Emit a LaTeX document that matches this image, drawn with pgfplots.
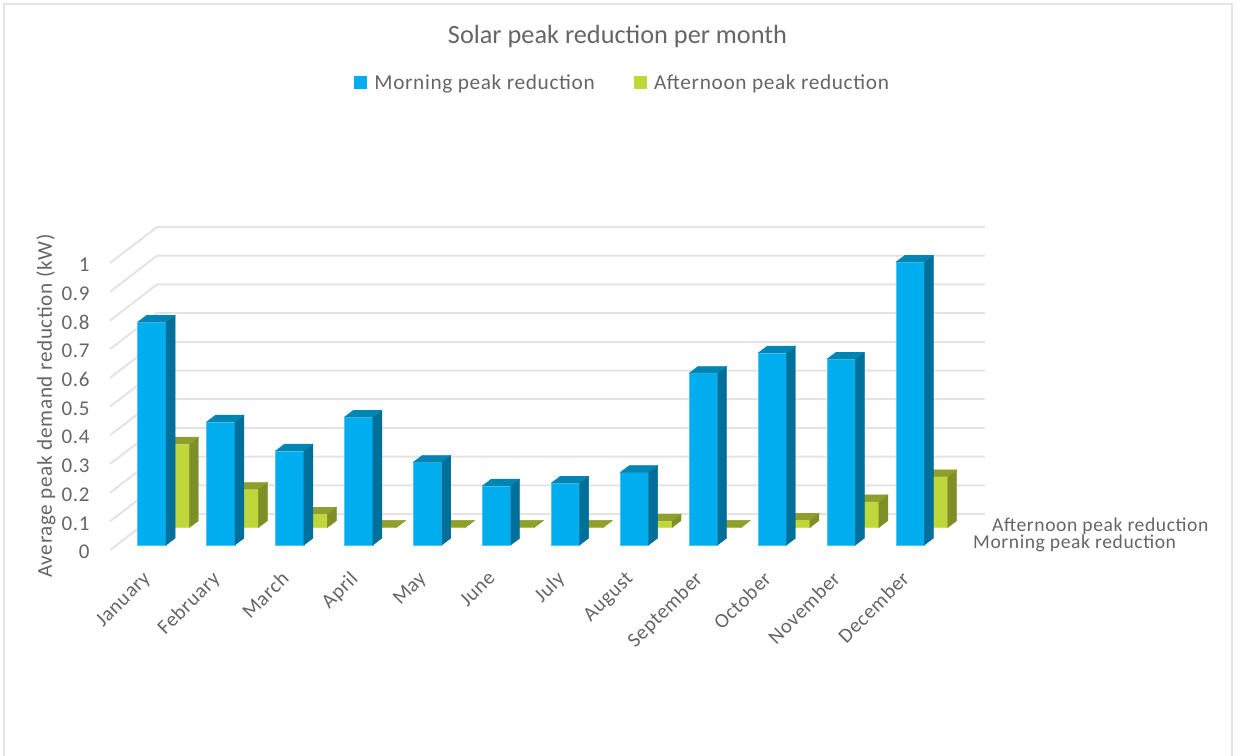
\documentclass[border=0pt]{standalone}
\usepackage{pgfplots}
\usepackage{pgfplotstable}
\usepackage{fontspec}
\setmainfont{Carlito}
\newfontfamily\spaced[LetterSpace=3]{Carlito}
\pgfplotsset{compat=1.18}
\definecolor{txt}{HTML}{666666}
\definecolor{gridc}{HTML}{E4E4E4}
\definecolor{frontB}{HTML}{00AEEF}
\definecolor{sideB}{HTML}{00709A}
\definecolor{topB}{HTML}{0085B5}
\definecolor{edgeB}{HTML}{4FC6F2}
\definecolor{frontG}{HTML}{BFD73B}
\definecolor{sideG}{HTML}{7F8F27}
\definecolor{topG}{HTML}{8F9F2D}
\definecolor{edgeG}{HTML}{CFE25F}
\pgfdeclareplotmark{emptymark}{}
\pgfplotstableread{
idx morning afternoon
0 0.777 0.291
1 0.429 0.134
2 0.328 0.047
3 0.446 0.001
4 0.289 0.001
5 0.206 0.001
6 0.216 0.001
7 0.253 0.023
8 0.599 0.001
9 0.669 0.026
10 0.648 0.090
11 0.986 0.177
}\datatable
\pgfplotsset{
  frame/.style={
    scale only axis, width=904pt, height=360pt,
    xmin=-0.8109, xmax=12.303, ymin=-0.0348, ymax=1.2195,
    clip=false, anchor=south west,
  },
  hidden/.style={frame, hide axis},
  faces/.style={
    only marks, scatter, mark=emptymark,
    visualization depends on={rawy \as \val},
    scatter/@pre marker code/.code={
      \fill[side#1] (14.15pt,0pt) -- ++(9pt,6.8pt) -- ++(0pt,{-\val*287pt}) -- ++(-9pt,-6.8pt) -- cycle;
      \fill[top#1] (-14.15pt,0pt) -- ++(9pt,6.8pt) -- ++(28.3pt,0pt) -- ++(-9pt,-6.8pt) -- cycle;
    },
    scatter/@post marker code/.code={},
  },
  front/.style={ybar, bar width=28.3pt, fill=front#1, draw=edge#1, line width=0.6pt},
}
\begin{document}
\begin{tikzpicture}
\useasboundingbox (0,0) rectangle (1238pt,755pt);
\fill[white] (0,0) rectangle (1238pt,755pt);
\draw[gridc, line width=2pt] (4pt,-1pt) -- (4pt,751pt) -- (1232pt,751pt) -- (1232pt,-1pt);
\begin{axis}[frame, at={(96pt,195pt)},
  axis line style={draw=none}, major tick length=0pt,
  /pgf/number format/assume math mode=true,
  ytick={0,0.1,0.2,0.3,0.4,0.5,0.6,0.7,0.8,0.9,1},
  yticklabels={0,0.1,0.2,0.3,0.4,0.5,0.6,0.7,0.8,0.9,1},
  xtick={0,1,2,3,4,5,6,7,8,9,10,11},
  xticklabels={January,February,March,April,May,June,July,August,September,October,November,December},
  yticklabel style={font=\spaced\fontsize{21pt}{24pt}\selectfont, text=txt, anchor=east, xshift=-3pt, yshift=-2pt},
  xticklabel style={font=\spaced\fontsize{20.5pt}{24pt}\selectfont, text=txt, rotate=45, anchor=north east, inner sep=0pt, yshift=0pt, xshift=-14pt},
  unbounded coords=jump,
  legend style={draw=none, fill=none, at={(258pt,477pt)}, anchor=west, legend columns=2, inner sep=0pt,
    font=\spaced\fontsize{21.3pt}{24pt}\selectfont, text=txt,
    /tikz/every even column/.append style={column sep=37pt}},
  legend cell align=left,
  legend image code/.code={\fill[#1, draw=none] (0pt,-6.5pt) rectangle (13pt,6.5pt); \path (18pt,0pt);},
]
\addlegendimage{fill=frontB}
\addlegendentry{Morning peak reduction}
\addlegendimage{fill=frontG}
\addlegendentry{Afternoon peak reduction}
\addplot[gridc, line width=2pt, forget plot] coordinates {
(-0.606,0) (0.074,0.1254) (12.084,0.1254) (nan,nan)
(-0.606,0.1) (0.074,0.2254) (12.084,0.2254) (nan,nan)
(-0.606,0.2) (0.074,0.3254) (12.084,0.3254) (nan,nan)
(-0.606,0.3) (0.074,0.4254) (12.084,0.4254) (nan,nan)
(-0.606,0.4) (0.074,0.5254) (12.084,0.5254) (nan,nan)
(-0.606,0.5) (0.074,0.6254) (12.084,0.6254) (nan,nan)
(-0.606,0.6) (0.074,0.7254) (12.084,0.7254) (nan,nan)
(-0.606,0.7) (0.074,0.8254) (12.084,0.8254) (nan,nan)
(-0.606,0.8) (0.074,0.9254) (12.084,0.9254) (nan,nan)
(-0.606,0.9) (0.074,1.0254) (12.084,1.0254) (nan,nan)
(-0.606,1) (0.074,1.1254) (12.084,1.1254)
};
\end{axis}
% afternoon series: base sits further back
\begin{axis}[hidden, at={(119.4pt,217.5pt)}]
\addplot[faces=G] table[x=idx,y=afternoon] {\datatable};
\addplot[front=G] table[x=idx,y=afternoon] {\datatable};
\end{axis}
% morning series
\begin{axis}[hidden, at={(96pt,200pt)}]
\addplot[faces=B] table[x=idx,y=morning] {\datatable};
\addplot[front=B] table[x=idx,y=morning] {\datatable};
\end{axis}
\node[text=txt, font=\fontsize{26.3pt}{30pt}\selectfont] at (617.5pt,719pt) {Solar peak reduction per month};
\node[text=txt, rotate=90, font=\spaced\fontsize{21.2pt}{24pt}\selectfont] at (46pt,349pt) {Average peak demand reduction (kW)};
\node[text=txt, anchor=west, inner sep=0pt, font=\spaced\fontsize{19.6pt}{22pt}\selectfont] at (992pt,229pt) {Afternoon peak reduction};
\node[text=txt, anchor=west, inner sep=0pt, font=\spaced\fontsize{19.6pt}{22pt}\selectfont] at (973pt,212pt) {Morning peak reduction};
\end{tikzpicture}
\end{document}
